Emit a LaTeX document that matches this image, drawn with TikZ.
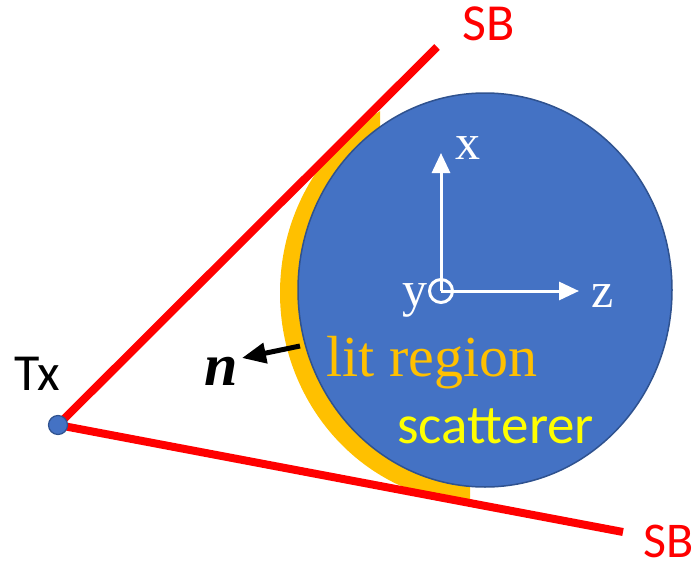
\documentclass[tikz,border=0pt]{standalone}
\usepackage{fontspec}
\setmainfont{Liberation Serif}
\newfontfamily\calfont{Carlito}
\usetikzlibrary{arrows.meta}
\definecolor{sblue}{HTML}{4472C4}
\definecolor{sborder}{HTML}{2F528F}
\definecolor{litc}{HTML}{FFC000}
\definecolor{sbred}{HTML}{FF0000}
\definecolor{scatc}{HTML}{FFFF00}
\tikzset{
  sbline/.style={draw=sbred, line width=8pt},
  axisarrow/.style={draw=white, line width=3pt, -{Triangle[length=20pt,width=18pt]}},
  sanslabel/.style={inner sep=0pt, anchor=base west, font=\calfont\fontsize{52}{60}\selectfont},
  seriflabel/.style={inner sep=0pt, anchor=base west, font=\fontsize{50}{58}\selectfont, text=white},
}
\begin{document}
\begin{tikzpicture}[x=1pt,y=-1pt]
\useasboundingbox (0,0) rectangle (699,570);
% lit region crescent
\begin{scope}
\clip (250,100) -- (380,100) -- (380,200) -- (470,400) -- (470,530) -- (250,530) -- cycle;
\fill[litc] (480,293) ellipse [x radius=200, y radius=210];
\end{scope}
% scatterer
\draw[draw=sborder, fill=sblue, line width=1.5pt] (485,290) ellipse [x radius=187, y radius=197];
% coordinates
\coordinate (sbtop) at (437,47);
\coordinate (sbbot) at (623,532);
\coordinate (txc) at (58,425);
\coordinate (o) at (441,291);
\coordinate (xt) at (441,153);
\coordinate (zt) at (579,291);
\coordinate (ns) at (300,346);
\coordinate (ne) at (242,358);
% red lines
\draw[sbline] (txc) -- (sbtop);
\draw[sbline] (txc) -- (sbbot);
% Tx
\node[circle, fill=sblue, draw=sborder, line width=1.2pt, minimum size=19pt, inner sep=0pt] (tx) at (txc) {};
% axes
\draw[axisarrow] (o) -- (xt);
\draw[axisarrow] (o) -- (zt);
\draw[white, line width=3pt] (o) circle [radius=11.5];
% normal arrow
\draw[black, line width=5pt, -{Triangle[length=24pt,width=20pt]}] (ns) -- (ne);
% labels
\node[sanslabel, text=sbred] (sb1) at (462,40) {SB};
\node[sanslabel, text=sbred, font=\calfont\fontsize{50}{58}\selectfont] (sb2) at (643,557) {SB};
\node[sanslabel, text=black] (txl) at (14,390) {Tx};
\node[sanslabel, text=scatc, font=\calfont\fontsize{55}{62}\selectfont] (scat) at (397,443) {scatterer};
\node[inner sep=0pt, anchor=base west, font=\fontsize{58}{64}\selectfont, text=litc] (lit) at (326,376) {lit region};
\node[seriflabel] (xl) at (455,159) {x};
\node[seriflabel] (zl) at (591,307) {z};
\node[seriflabel] (yl) at (402,306) {y};
\node[inner sep=0pt, anchor=base west, font=\bfseries\itshape\fontsize{60}{66}\selectfont] (nl) at (204,385) {n};
\end{tikzpicture}
\end{document}
